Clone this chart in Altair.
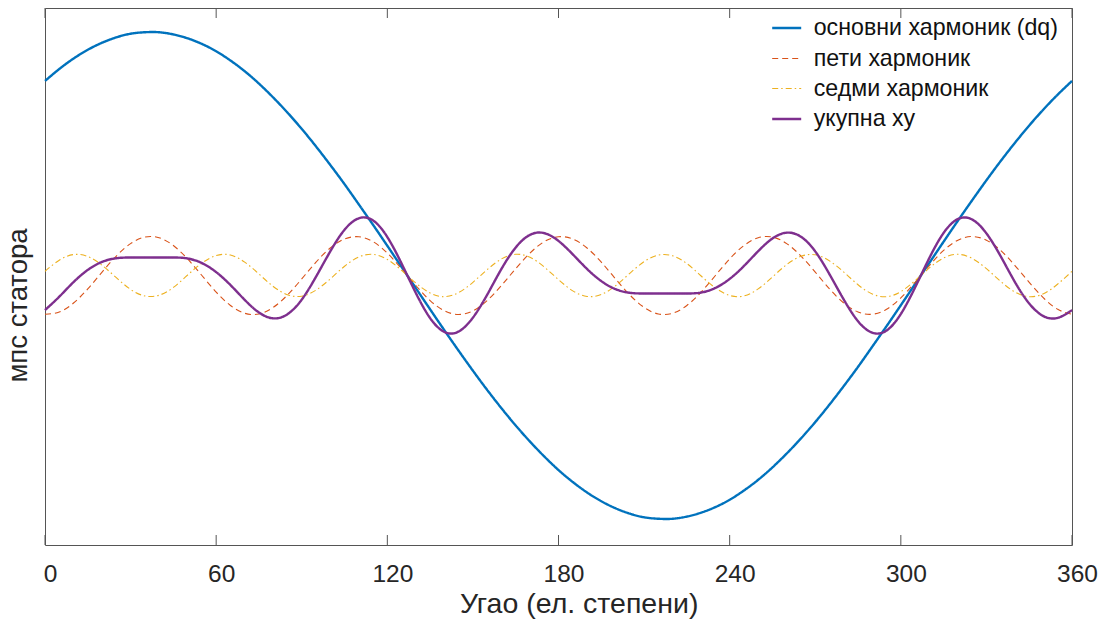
import altair as alt
import pandas as pd

FONT = "Liberation Sans"

angle = list(range(0, 361, 5))

fundamental = [
    0.799, 0.848, 0.891, 0.927, 0.956, 0.978, 0.993, 0.999, 0.999, 0.990, 0.974, 0.951, 0.921,
    0.883, 0.839, 0.788, 0.731, 0.669, 0.602, 0.530, 0.454, 0.375, 0.292, 0.208, 0.122,
    0.035, -0.052, -0.139, -0.225, -0.309, -0.391, -0.470, -0.545, -0.616, -0.682, -0.743, -0.799,
    -0.848, -0.891, -0.927, -0.956, -0.978, -0.993, -0.999, -0.999, -0.990, -0.974, -0.951, -0.921,
    -0.883, -0.839, -0.788, -0.731, -0.669, -0.602, -0.530, -0.454, -0.375, -0.292, -0.208, -0.122,
    -0.035, 0.052, 0.139, 0.225, 0.309, 0.391, 0.470, 0.545, 0.616, 0.682, 0.743, 0.799,
]

fifth = [
    -0.159, -0.150, -0.113, -0.055, 0.014, 0.080, 0.131, 0.158, 0.155, 0.123, 0.068, 0.000, -0.068,
    -0.123, -0.155, -0.158, -0.131, -0.080, -0.014, 0.055, 0.113, 0.150, 0.159, 0.139, 0.092,
    0.028, -0.041, -0.103, -0.145, -0.160, -0.145, -0.103, -0.041, 0.028, 0.092, 0.139, 0.159,
    0.150, 0.113, 0.055, -0.014, -0.080, -0.131, -0.158, -0.155, -0.123, -0.068, 0.000, 0.068,
    0.123, 0.155, 0.158, 0.131, 0.080, 0.014, -0.055, -0.113, -0.150, -0.159, -0.139, -0.092,
    -0.028, 0.041, 0.103, 0.145, 0.160, 0.145, 0.103, 0.041, -0.028, -0.092, -0.139, -0.159,
]

seventh = [
    0.017, 0.063, 0.086, 0.078, 0.042, -0.009, -0.057, -0.084, -0.081, -0.049, 0.002, 0.051, 0.082,
    0.084, 0.055, 0.006, -0.045, -0.079, -0.085, -0.060, -0.014, 0.038, 0.076, 0.087, 0.066,
    0.021, -0.031, -0.072, -0.087, -0.070, -0.028, 0.024, 0.068, 0.087, 0.075, 0.035, -0.017,
    -0.063, -0.086, -0.078, -0.042, 0.009, 0.057, 0.084, 0.081, 0.049, -0.002, -0.051, -0.082,
    -0.084, -0.055, -0.006, 0.045, 0.079, 0.085, 0.060, 0.014, -0.038, -0.076, -0.087, -0.066,
    -0.021, 0.031, 0.072, 0.087, 0.070, 0.028, -0.024, -0.068, -0.087, -0.075, -0.035, 0.017,
]

total = [
    -0.142, -0.087, -0.027, 0.023, 0.056, 0.071, 0.074, 0.074, 0.074, 0.074, 0.070, 0.051, 0.014,
    -0.039, -0.100, -0.152, -0.176, -0.159, -0.099, -0.005, 0.099, 0.188, 0.235, 0.226, 0.158,
    0.049, -0.072, -0.175, -0.232, -0.230, -0.173, -0.079, 0.027, 0.115, 0.167, 0.174, 0.142,
    0.087, 0.027, -0.023, -0.056, -0.071, -0.074, -0.074, -0.074, -0.074, -0.070, -0.051, -0.014,
    0.039, 0.100, 0.152, 0.176, 0.159, 0.099, 0.005, -0.099, -0.188, -0.235, -0.226, -0.158,
    -0.049, 0.072, 0.175, 0.232, 0.230, 0.173, 0.079, -0.027, -0.115, -0.167, -0.174, -0.142,
]

series_names = ["основни хармоник (dq)", "пети хармоник", "седми хармоник", "укупна xy"]
x_ticks = [0, 60, 120, 180, 240, 300, 360]

colors = ["#0072BD", "#D95319", "#EDB120", "#7E2F8E"]
dashes = [[1, 0], [6, 4], [6, 3, 1.5, 3], [1, 0]]
widths = [2.4, 1.1, 1.1, 2.4]

rows = []
for name, vals in zip(series_names, [fundamental, fifth, seventh, total]):
    for a, v in zip(angle, vals):
        rows.append({"series": name, "angle": a, "value": v})
df = pd.DataFrame(rows)
tick_df = pd.DataFrame({"angle": x_ticks})

W, H = 1027, 537

leg = alt.Legend(
    title=None, orient="none", legendX=725.7, legendY=4,
    symbolType="stroke", symbolSize=841, labelFontSize=23.2, labelFont=FONT,
    labelColor="#111111", labelOffset=11, padding=0, rowPadding=3, labelLimit=600,
)

x_scale = alt.Scale(domain=[0, 360], nice=False, zero=False)
x_axis = alt.Axis(
    values=x_ticks, ticks=False, domain=False, grid=False,
    labelFontSize=24.5, labelFont=FONT, labelColor="#262626",
    labelPadding=36.7, labelOffset=5, labelFlush=False, labelBaseline="alphabetic",
    title="Угао (ел. степени)", titleFontSize=28.5, titleFont=FONT,
    titleFontWeight="normal", titleColor="#262626",
    titleX=533.7, titleY=67.5, titleAlign="center", titleBaseline="alphabetic",
)

lines = alt.Chart(df).mark_line(interpolate="natural").encode(
    x=alt.X("angle:Q", scale=x_scale, axis=x_axis),
    y=alt.Y(
        "value:Q", scale=alt.Scale(domain=[-1.1068, 1.0986], nice=False, zero=False),
        axis=alt.Axis(
            labels=False, ticks=False, domain=False, grid=False,
            title="мпс статора", titleFontSize=27.5, titleFont=FONT,
            titleFontWeight="normal", titleColor="#262626", titleAngle=270,
            titleX=-19, titleY=297, titleAlign="center", titleBaseline="alphabetic",
        ),
    ),
    color=alt.Color("series:N", scale=alt.Scale(domain=series_names, range=colors), legend=leg),
    strokeDash=alt.StrokeDash("series:N", scale=alt.Scale(domain=series_names, range=dashes), legend=leg),
    strokeWidth=alt.StrokeWidth(
        "series:N", scale=alt.Scale(type="ordinal", domain=series_names, range=widths), legend=leg
    ),
)

bottom_ticks = alt.Chart(tick_df).mark_rule(color="#555555", strokeWidth=1).encode(
    x=alt.X("angle:Q", scale=x_scale, axis=x_axis),
    y=alt.value(H), y2=alt.value(H - 10),
)
top_ticks = alt.Chart(tick_df).mark_rule(color="#555555", strokeWidth=1).encode(
    x=alt.X("angle:Q", scale=x_scale, axis=x_axis),
    y=alt.value(0), y2=alt.value(10),
)

chart = alt.layer(lines, bottom_ticks, top_ticks).properties(
    width=W, height=H,
    autosize=alt.AutoSizeParams(type="none"),
    padding={"left": 37, "top": 0, "right": 27, "bottom": 74},
    background="white",
).configure_view(stroke="#555555", strokeWidth=1)

chart.save("out.html", embed_options={"renderer": "svg", "actions": False})
